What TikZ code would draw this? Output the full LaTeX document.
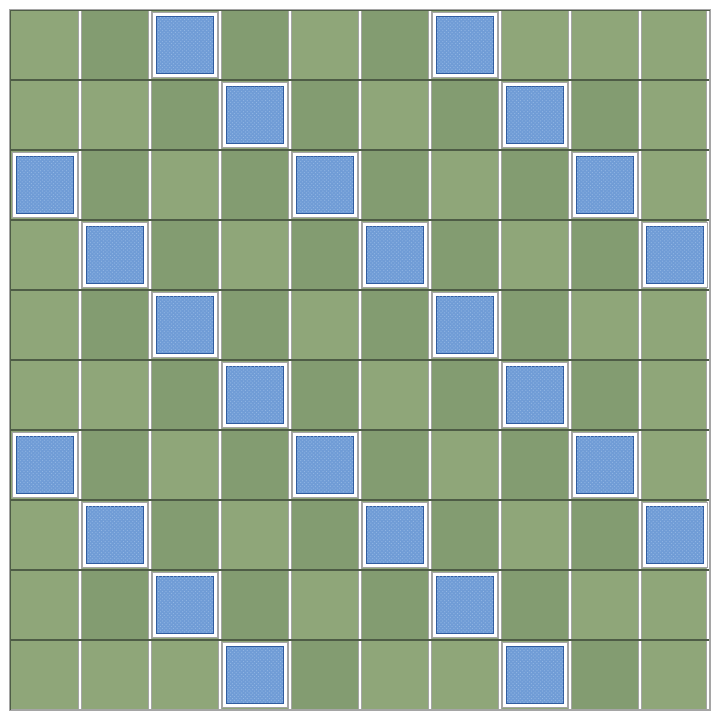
\documentclass[tikz,border=0pt]{standalone}
\usepackage{tikz}
\usetikzlibrary{patterns}
\definecolor{verdechiaro}{RGB}{143,166,121}
\definecolor{verdescuro}{RGB}{131,156,113}
\definecolor{bordoriga}{RGB}{78,92,70}
\definecolor{azzurro}{RGB}{112,156,214}
\definecolor{puntini}{RGB}{146,182,228}
\definecolor{bordoblu}{RGB}{48,92,160}
\definecolor{grigio}{RGB}{165,165,165}

\begin{document}
\begin{tikzpicture}[x = 2cm, y = 2cm,
    cella/.style = {fill=verdechiaro},
    cellascura/.style = {fill=verdescuro},
    cornice/.style = {fill=white, draw=grigio, line width=0.6pt},
    vasca/.style = {fill=azzurro, draw=bordoblu, line width=0.7pt},
    riga/.style = {draw=bordoriga, line width=1.2pt},
    colonna/.style = {draw=grigio, line width=3.8pt}]

    \useasboundingbox (-10/70,-18/70) rectangle (10+5/70,10+10/70);

    % Sfondo verde
    \fill[cella] (0,0) rectangle (10,10);

    % Celle scure (riga dall'alto / colonne)
    \foreach \r/\cols in {0/{1,3,5}, 1/{2,4,6,8}, 2/{1,3,5,7}, 3/{2,4,6,8},
                          4/{1,3,5,7}, 5/{2,4,6,8}, 6/{1,3,5,7}, 7/{2,4,6,8},
                          8/{1,3,5,7}, 9/{4,8}} {
        \foreach \c in \cols {
            \fill[cellascura] (\c,9-\r) rectangle (\c+1,10-\r);
        }
    }

    % Separatori verticali (bianchi)
    \foreach \c in {1,...,9} {
        \draw[colonna] (\c,0) -- (\c,10);
        \draw[white, line width=1.8pt] (\c,0) -- (\c,10);
    }
    \draw[colonna] (10-0.03,0) -- (10-0.03,10);
    \draw[white, line width=1.8pt] (10-0.03,0) -- (10-0.03,10);

    % Separatori orizzontali (scuri)
    \foreach \r in {1,...,9} {
        \draw[riga] (0,\r) -- (10,\r);
    }

    % Bordo esterno
    \draw[grigio, line width=1pt] (0,0) rectangle (10,10);
    \draw[bordoriga, line width=0.6pt] (0,0) -- (0,10) -- (10,10);

    % Vasche blu
    \foreach \r/\cols in {0/{2,6}, 1/{3,7}, 2/{0,4,8}, 3/{1,5,9},
                          4/{2,6}, 5/{3,7}, 6/{0,4,8}, 7/{1,5,9},
                          8/{2,6}, 9/{3,7}} {
        \foreach \c in \cols {
            \filldraw[cornice] (\c+0.04,9-\r+0.04) rectangle (\c+0.96,10-\r-0.04);
            \filldraw[vasca] (\c+0.095,9-\r+0.095) rectangle (\c+0.905,10-\r-0.095);
            \fill[pattern=crosshatch dots, pattern color=puntini]
                (\c+0.1,9-\r+0.1) rectangle (\c+0.9,10-\r-0.1);
        }
    }

\end{tikzpicture}
\end{document}
